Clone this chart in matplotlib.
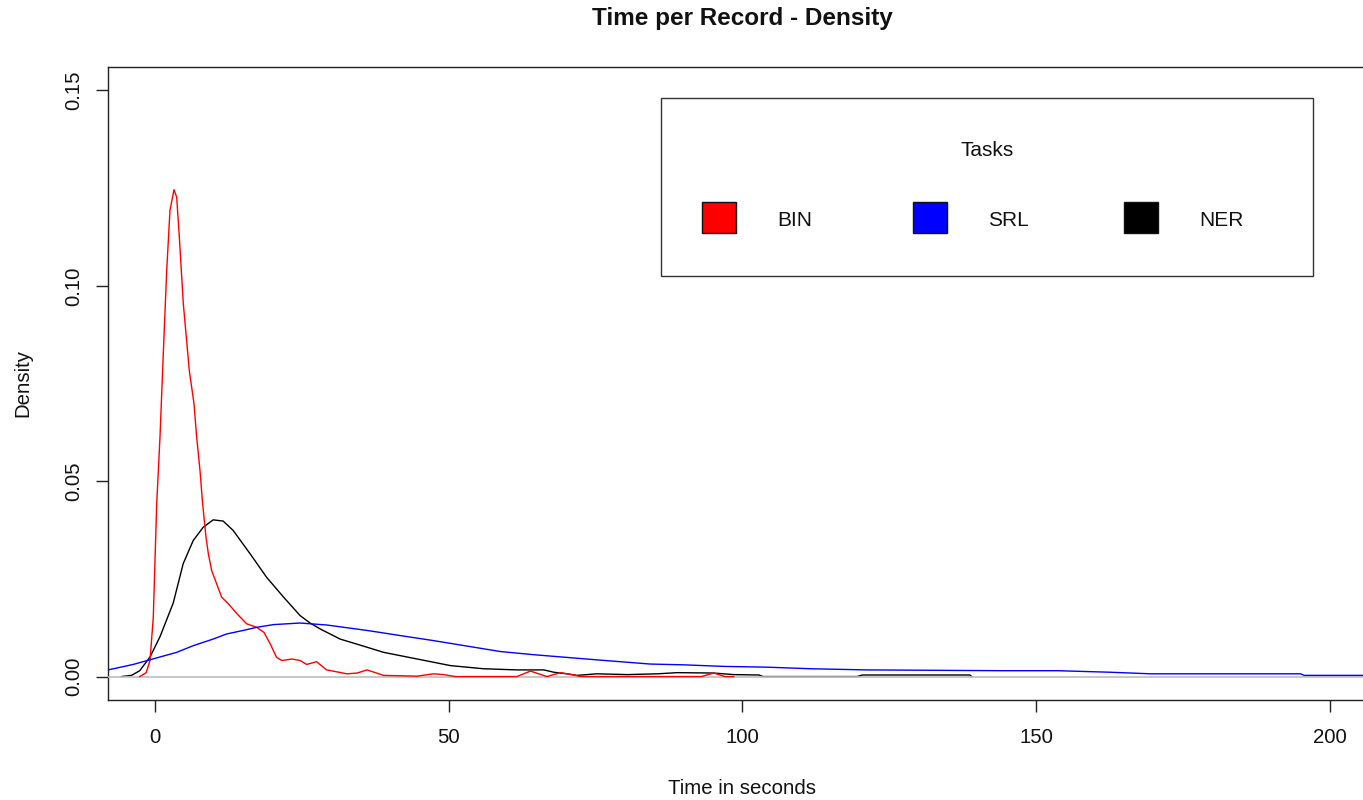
import matplotlib
matplotlib.use("Agg")
import matplotlib.pyplot as plt
from matplotlib.patches import Rectangle

plt.rcParams['font.family'] = ['Liberation Sans', 'DejaVu Sans']

# ---------------- data ----------------
tasks = ["BIN", "SRL", "NER"]
task_colors = ["#FF0000", "#0000FF", "#000000"]

bin_x = [-2.6, -1.5, -0.85, -0.29, 0.29, 0.85, 1.41, 1.99, 2.55, 3.23, 3.69,
         4.14, 4.82, 5.84, 6.64, 7.09, 7.66, 8.11, 8.68, 9.08, 9.65, 10.5,
         11.35, 12.5, 14.0, 15.6, 17.3, 18.55, 19.6, 20.7, 21.6, 23.3, 24.7,
         25.8, 27.5, 29.2, 32.7, 34.4, 36.1, 38.9, 44.6, 47.4, 49.1, 51.1,
         61.6, 63.9, 66.7, 69.0, 71.3, 72.4, 93.0, 95.1, 97.0, 98.5]
bin_y = [0.0, 0.001, 0.0041, 0.0152, 0.0442, 0.0613, 0.0826, 0.1039, 0.1193,
         0.1246, 0.1227, 0.1125, 0.0954, 0.0783, 0.0698, 0.0613, 0.0527,
         0.0442, 0.0357, 0.0314, 0.0271, 0.0237, 0.0203, 0.0186, 0.0160,
         0.0135, 0.0126, 0.0113, 0.0084, 0.0049, 0.0041, 0.0045, 0.0041,
         0.0031, 0.0038, 0.0017, 0.0007, 0.0009, 0.0017, 0.0003, 0.0001,
         0.0007, 0.0005, 0.0, 0.0, 0.0014, 0.0, 0.001, 0.0004, 0.0, 0.0,
         0.0009, 0.0, 0.0]

srl_x = [-8, -3.7, -0.85, 3.7, 6.5, 9.9, 12.2, 15, 17.3, 20.2, 24.7, 29.2,
         36.1, 41.7, 47.4, 53.1, 58.8, 64.4, 70.1, 75.8, 84.3, 90, 96.8,
         104.2, 111.6, 121.2, 144, 153.6, 162.7, 169.5, 195, 195.6, 208]
srl_y = [0.0017, 0.0031, 0.0043, 0.0062, 0.0079, 0.0096, 0.0109, 0.0118,
         0.0126, 0.0133, 0.0137, 0.0132, 0.0118, 0.0105, 0.0092, 0.0078,
         0.0064, 0.0056, 0.0049, 0.0042, 0.0032, 0.0030, 0.0026, 0.0024,
         0.0020, 0.0017, 0.0015, 0.0015, 0.0011, 0.0007, 0.0007, 0.0003,
         0.0003]

ner_x = [-5.7, -4, -2.6, -0.85, 0.85, 3.1, 4.8, 6.5, 8.2, 9.9, 11.6, 13.3,
         16.2, 19, 21.9, 24.7, 26.4, 28.1, 31.5, 36.1, 38.9, 44.6, 50.3,
         55.9, 61.6, 65.0, 66.2, 67.9, 70.1, 71.8, 75.2, 80.4, 85.5, 88.9,
         95.1, 98.5, 102.8, 103.5, 119.5, 120.4, 138.7, 139.0]
ner_y = [0.0, 0.0003, 0.0015, 0.005, 0.0102, 0.0188, 0.0289, 0.0348, 0.0382,
         0.0401, 0.0398, 0.0374, 0.0314, 0.0254, 0.0203, 0.0156, 0.0137,
         0.0122, 0.0096, 0.0075, 0.0062, 0.0045, 0.0028, 0.0020, 0.0017,
         0.0017, 0.0017, 0.0011, 0.0007, 0.0003, 0.0007, 0.0005, 0.0007,
         0.0010, 0.0009, 0.0005, 0.0004, 0.0, 0.0, 0.0004, 0.0004, 0.0]

x_ticks = [0, 50, 100, 150, 200]
y_ticks = [0.00, 0.05, 0.10, 0.15]
y_tick_labels = ["0.00", "0.05", "0.10", "0.15"]

# ---------------- figure ----------------
W, H = 1363, 800
fig = plt.figure(figsize=(W / 100, H / 100), dpi=100)

def fx(px):
    return px / W

def fy(py):
    return 1 - py / H

ax_l, ax_r, ax_t, ax_b = 108, 1377, 67, 700
ax = fig.add_axes([fx(ax_l), fy(ax_b), fx(ax_r - ax_l), (ax_b - ax_t) / H])

ax.plot(ner_x, ner_y, color=task_colors[2], lw=1.0, zorder=2)
ax.axhline(0, color="#BEBEBE", lw=1.2, zorder=3)
ax.plot(bin_x, bin_y, color=task_colors[0], lw=1.0, zorder=4)
ax.plot(srl_x, srl_y, color=task_colors[1], lw=1.0, zorder=4)

ax.set_xlim(-8, 208)
ax.set_ylim(-0.006, 0.156)
ax.set_xticks(x_ticks)
ax.set_xticklabels([str(t) for t in x_ticks])
ax.set_yticks(y_ticks)
ax.set_yticklabels(y_tick_labels, rotation=90, va="center")
ax.tick_params(axis="both", direction="out", length=8.5, width=1.0,
               labelsize=14.7, colors="#222222", labelcolor="#111111")
ax.tick_params(axis="x", pad=12)
ax.tick_params(axis="y", pad=9)
for s in ax.spines.values():
    s.set_linewidth(1.0)
    s.set_color("#222222")

fig.text(fx(742), fy(18), "Time per Record - Density", ha="center",
         va="center", fontsize=17.5, fontweight="bold", color="#111111")
fig.text(fx(742), fy(788), "Time in seconds", ha="center", va="center",
         fontsize=14.7, color="#111111")
fig.text(fx(23), fy(383), "Density", ha="center", va="center",
         rotation=90, fontsize=14.7, color="#111111")

# ---------------- legend box ----------------
leg_l, leg_r, leg_t, leg_b = 661, 1313, 98, 276
fig.patches.append(Rectangle((fx(leg_l), fy(leg_b)), fx(leg_r - leg_l),
                             (leg_b - leg_t) / H, transform=fig.transFigure,
                             facecolor="white", edgecolor="#333333", lw=1.0,
                             zorder=5))
fig.text(fx(987), fy(151), "Tasks", ha="center", va="center",
         fontsize=15, color="#111111", zorder=6)
sq_w, sq_h = 34, 31
first_sq = 702
step = 211
for i, (name, col) in enumerate(zip(tasks, task_colors)):
    x0 = first_sq + i * step
    fig.patches.append(Rectangle((fx(x0), fy(233)), fx(sq_w), sq_h / H,
                                 transform=fig.transFigure, facecolor=col,
                                 edgecolor="#111111", lw=1.0, zorder=6))
    fig.text(fx(x0 + 75), fy(220), name, ha="left", va="center",
             fontsize=15, color="#111111", zorder=6)

fig.savefig("out.png", dpi=100)
